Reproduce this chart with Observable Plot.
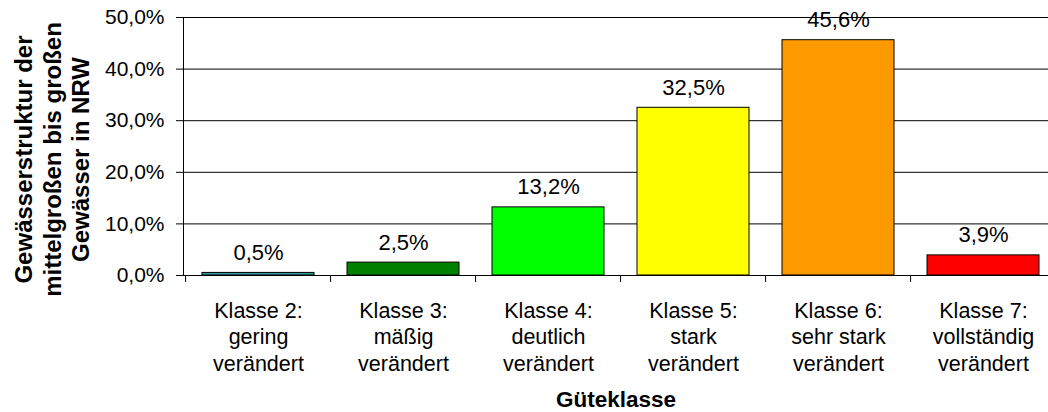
<!DOCTYPE html>
<html>
<head>
<meta charset="utf-8">
<script src="https://cdn.jsdelivr.net/npm/d3@7"></script>
<script src="https://cdn.jsdelivr.net/npm/@observablehq/plot@0.6"></script>
<style>
  html, body { margin: 0; padding: 0; background: #fff; }
</style>
</head>
<body>
<div id="chart"></div>
<script>
const categories = [
  "Klasse 2:\ngering\nverändert",
  "Klasse 3:\nmäßig\nverändert",
  "Klasse 4:\ndeutlich\nverändert",
  "Klasse 5:\nstark\nverändert",
  "Klasse 6:\nsehr stark\nverändert",
  "Klasse 7:\nvollständig\nverändert"
];
const values = [0.5, 2.5, 13.2, 32.5, 45.6, 3.9];
const colors = ["#339999", "#008000", "#00ff00", "#ffff00", "#ff9900", "#ff0000"];
const yTicks = [0, 10, 20, 30, 40, 50];
const xTitle = "Güteklasse";
const yTitle = "Gewässerstruktur der\nmittelgroßen bis großen\nGewässer in NRW";

const data = categories.map((c, i) => ({cat: c, value: values[i], color: colors[i]}));
const fmt = v => v.toFixed(1).replace(".", ",") + "%";

const xRange = [183, 1058];
const step = (xRange[1] - xRange[0]) / categories.length;

const chart = Plot.plot({
  width: 1048,
  height: 412,
  marginLeft: 183,
  marginRight: 0,
  marginTop: 17,
  marginBottom: 137,
  style: {fontFamily: "'Liberation Sans', Arial, sans-serif", color: "#000", background: "#fff"},
  x: {domain: categories, range: xRange, paddingInner: 0.226, paddingOuter: 0.113},
  y: {domain: [0, 50]},
  color: {type: "identity"},
  marks: [
    Plot.gridY(yTicks, {stroke: "#000", strokeOpacity: 1}),
    Plot.barY(data, {x: "cat", y: "value", fill: "color", stroke: "#000", strokeWidth: 1}),
    Plot.ruleY([0], {stroke: "#000"}),
    Plot.frame({anchor: "left", stroke: "#000"}),
    Plot.ruleX(categories, {x: d => d, y1: 0, y2: 0, insetBottom: -7, dx: -step / 2, stroke: "#000"}),
    Plot.text(data, {x: "cat", y: "value", text: d => fmt(d.value), lineAnchor: "bottom", dy: -13, fontSize: 22, fill: "#000"}),
    Plot.axisY(yTicks, {tickSize: 7, tickPadding: 12, tickFormat: fmt, fontSize: 21, label: null, stroke: "#000"}),
    Plot.axisX({tickSize: 0, tickPadding: 23, fontSize: 21.5, lineHeight: 1.25, label: null}),
    Plot.text([xTitle], {frameAnchor: "bottom", lineAnchor: "bottom", dy: 131, fontSize: 22.5, fontWeight: "bold", fill: "#000"}),
    Plot.text([yTitle], {frameAnchor: "left", rotate: -90, dx: -132, dy: 13, textAnchor: "middle", lineAnchor: "middle", lineHeight: 1.18, fontSize: 24, fontWeight: "bold", fill: "#000"})
  ]
});
document.getElementById("chart").appendChild(chart);
</script>
</body>
</html>
